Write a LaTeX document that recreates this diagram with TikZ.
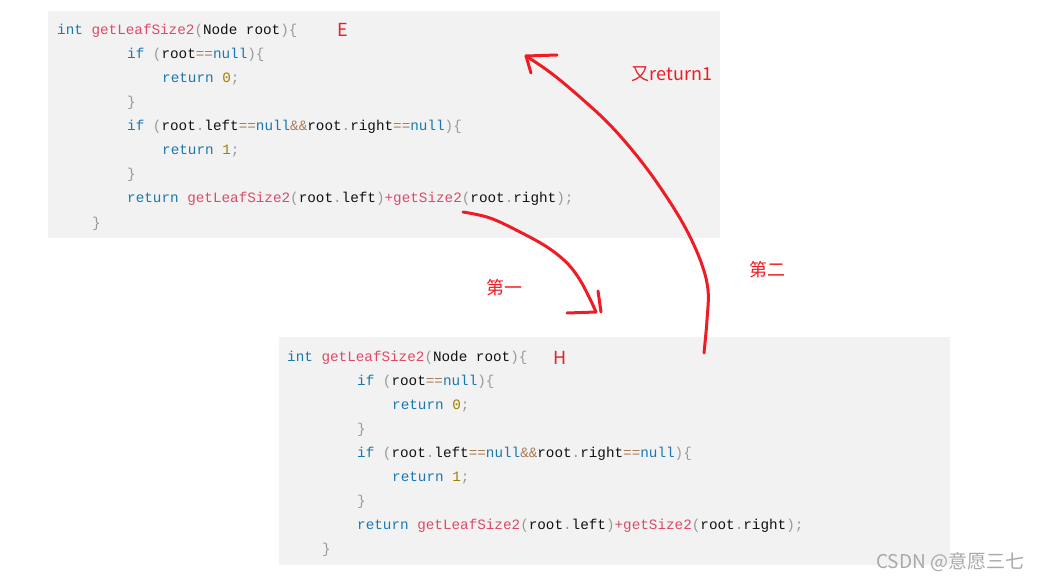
\documentclass[tikz,border=0pt]{standalone}
\usepackage{fontspec}
\newfontfamily\codefont{Liberation Mono}
\newfontfamily\cjk{Noto Sans CJK SC}
\definecolor{boxbg}{HTML}{F2F2F2}
\definecolor{kwc}{HTML}{1A78B0}
\definecolor{fnc}{HTML}{DD4A68}
\definecolor{pnc}{HTML}{999999}
\definecolor{opc}{HTML}{A67F59}
\definecolor{numc}{HTML}{A08000}
\definecolor{idc}{HTML}{111111}
\definecolor{inkred}{HTML}{EE1C25}
\definecolor{wmark}{HTML}{A8A8A8}
\newcommand{\Kw}[1]{\textcolor{kwc}{#1}}
\newcommand{\Fn}[1]{\textcolor{fnc}{#1}}
\newcommand{\Pn}[1]{\textcolor{pnc}{#1}}
\newcommand{\Op}[1]{\textcolor{opc}{#1}}
\newcommand{\Nm}[1]{\textcolor{numc}{#1}}
\tikzset{
  codebox/.style={fill=boxbg, draw=none, inner sep=0pt, anchor=north west},
  codeline/.style={anchor=base west, inner sep=0pt, text=idc, font=\codefont\fontsize{14.3}{17}\selectfont},
  inklabel/.style={inner sep=0pt, text=inkred, font=\cjk\fontsize{18}{21}\selectfont},
  ink/.style={draw=inkred, line width=3pt, line cap=round, line join=round}
}
\begin{document}
\begin{tikzpicture}[x=1pt,y=-1pt]
\useasboundingbox (0,0) rectangle (1041,580);
% code boxes
\node[codebox, minimum width=672pt, minimum height=227pt] (topbox) at (48,11) {};
\node[codebox, minimum width=671pt, minimum height=228pt] (botbox) at (279,337) {};
% code lines
\foreach \bx/\by/\p in {57/35/e, 287/361/h}{
\node[codeline] (\p1) at (\bx,\by) {\Kw{int} \Fn{getLeafSize2}\Pn{(}Node root\Pn{)\{}};
\node[codeline] (\p2) at (\bx+70,\by+24) {\Kw{if} \Pn{(}root\Op{==}\Kw{null}\Pn{)\{}};
\node[codeline] (\p3) at (\bx+105,\by+48) {\Kw{return} \Nm{0}\Pn{;}};
\node[codeline] (\p4) at (\bx+70,\by+72) {\Pn{\}}};
\node[codeline] (\p5) at (\bx+70,\by+96) {\Kw{if} \Pn{(}root\Pn{.}left\Op{==}\Kw{null}\Op{\&\&}root\Pn{.}right\Op{==}\Kw{null}\Pn{)\{}};
\node[codeline] (\p6) at (\bx+105,\by+120) {\Kw{return} \Nm{1}\Pn{;}};
\node[codeline] (\p7) at (\bx+70,\by+144) {\Pn{\}}};
\node[codeline] (\p8) at (\bx+70,\by+168) {\Kw{return} \Fn{getLeafSize2}\Pn{(}root\Pn{.}left\Pn{)}\Fn{+}\Fn{getSize2}\Pn{(}root\Pn{.}right\Pn{);}};
\node[codeline] (\p9) at (\bx+35,\by+192) {\Pn{\}}};
}
% labels
\node[inklabel] (lE) at (343,30) {E};
\node[inklabel] (lH) at (560,358) {H};
\node[inklabel] (lret) at (672,74) {又return1};
\node[inklabel] (lfirst) at (504,288) {第一};
\node[inklabel] (lsecond) at (767,270) {第二};
% arrow endpoints
\coordinate (a1s) at (463,212);
\coordinate (a1e) at (596,312);
\coordinate (a2s) at (704,353);
\coordinate (a2e) at (526,56);
% first arrow (top call -> bottom)
\draw[ink] plot[smooth, tension=0.6] coordinates {(a1s) (490,218) (520,232) (547,247) (567,263) (580,280) (590,299) (a1e)};
\draw[ink] (567,313) -- (a1e);
\draw[ink] (598,291) -- (601,312);
% second arrow (bottom return -> top)
\draw[ink] plot[smooth, tension=0.6] coordinates {(a2s) (707,320) (708,290) (701,262) (686,229) (666,196) (641,161) (611,126) (581,98) (551,73) (a2e)};
\draw[ink] (a2e) -- (557,55);
\draw[ink] (a2e) -- (531,73);
% watermark
\node[inner sep=0pt, anchor=west, text=wmark, font=\cjk\fontsize{19}{22}\selectfont] (wm) at (876,562) {CSDN @意愿三七};
\end{tikzpicture}
\end{document}
